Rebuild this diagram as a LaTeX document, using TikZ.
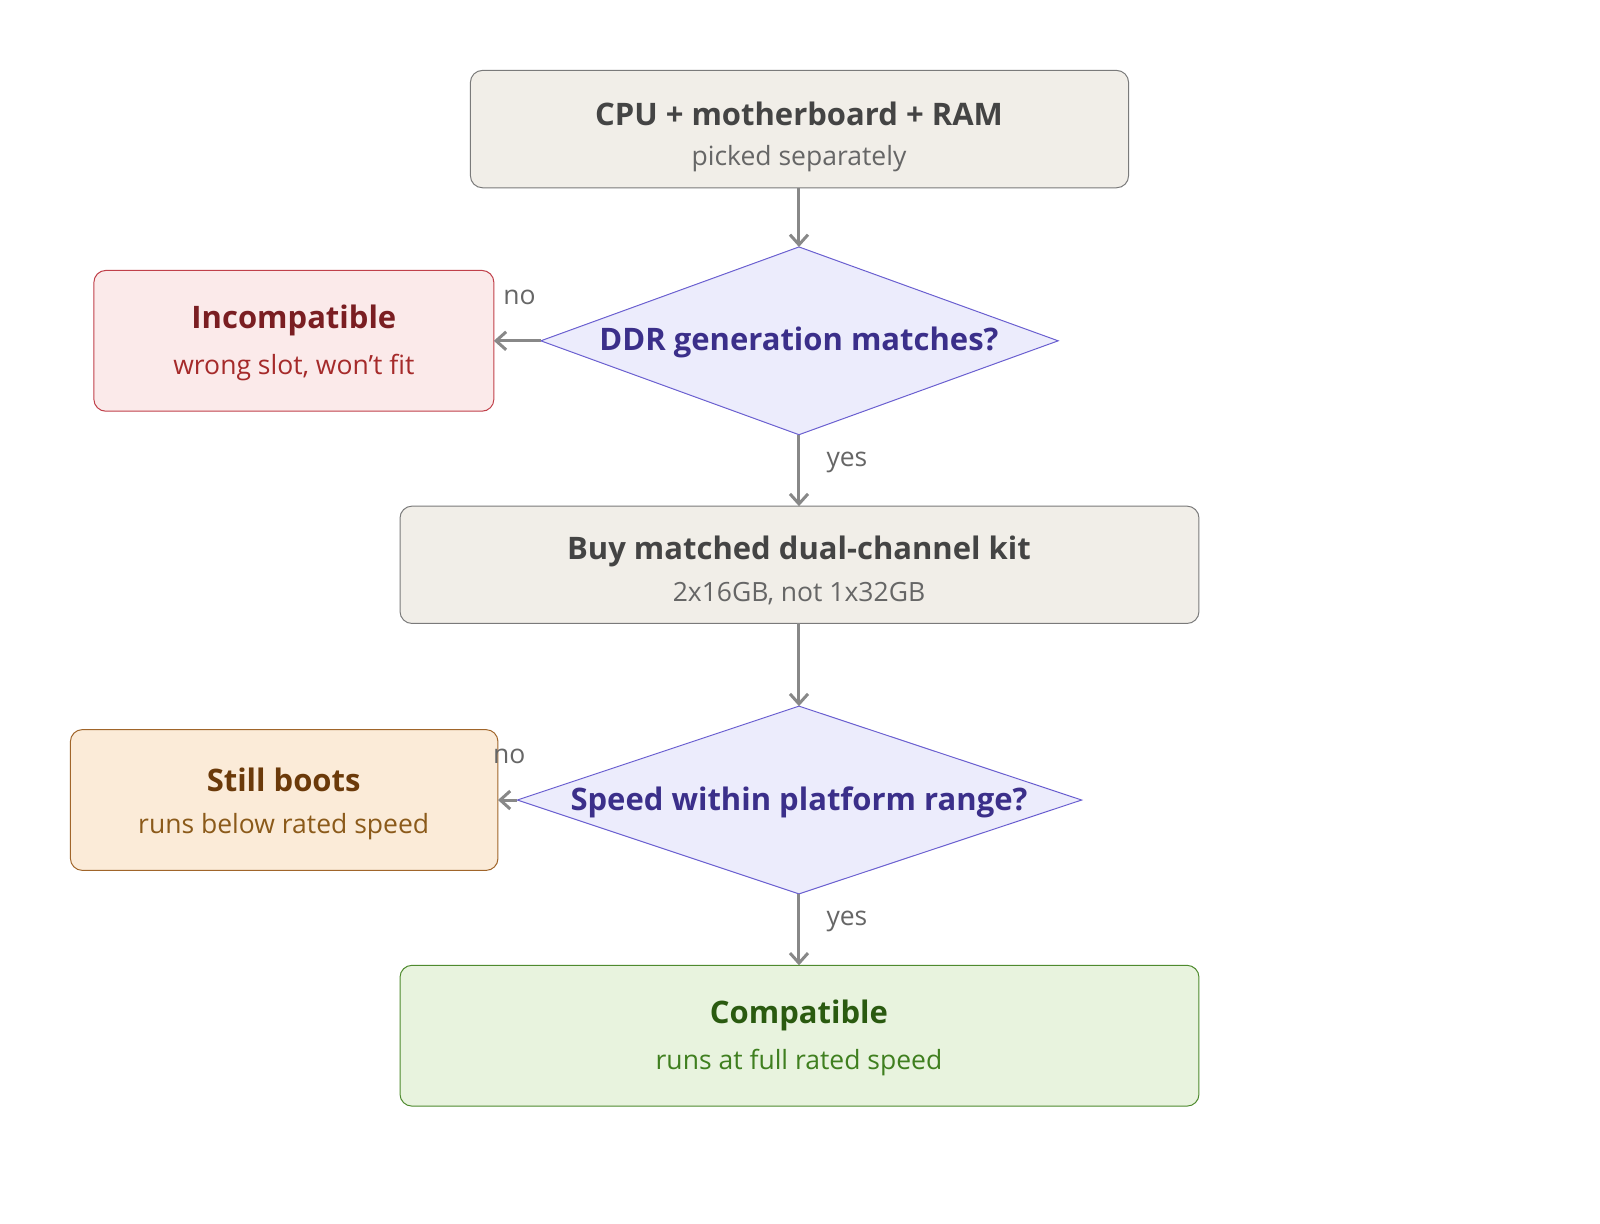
\documentclass[tikz,border=0pt]{standalone}
\usepackage{fontspec}
\setmainfont{Open Sans}
\usetikzlibrary{arrows.meta}
\definecolor{gfill}{HTML}{F1EEE8}\definecolor{gline}{HTML}{7A7A7A}\definecolor{gtext}{HTML}{444444}\definecolor{gsub}{HTML}{666666}
\definecolor{dfill}{HTML}{ECECFC}\definecolor{dline}{HTML}{6A5FD0}\definecolor{dtext}{HTML}{3B2F8A}
\definecolor{rfill}{HTML}{FBEAEA}\definecolor{rline}{HTML}{C0404A}\definecolor{rtext}{HTML}{7A1E22}\definecolor{rsub}{HTML}{A52A2A}
\definecolor{ofill}{HTML}{FBEBD8}\definecolor{oline}{HTML}{A0652A}\definecolor{otext}{HTML}{6B3A0A}\definecolor{osub}{HTML}{8B5A1A}
\definecolor{cfill}{HTML}{E8F3DE}\definecolor{cline}{HTML}{4E8A2E}\definecolor{ctext}{HTML}{2A5A10}\definecolor{csub}{HTML}{3F7F1F}
\definecolor{arr}{HTML}{888888}
\tikzset{
 box/.style={rounded corners=12pt,line width=1pt,inner sep=0pt},
 ttl/.style={font=\fontsize{31}{36}\selectfont\bfseries},
 sub/.style={font=\fontsize{26.5}{31}\selectfont},
 lbl/.style={font=\fontsize{26.5}{31}\selectfont,text=gsub},
 conn/.style={draw=arr,line width=3pt,-{Straight Barb[length=10pt,width=18pt,line width=3pt]}},
 dia/.style={fill=dfill,draw=dline,line width=1pt}
}
\begin{document}
\begin{tikzpicture}[x=1.0204pt,y=-1.0204pt]
\useasboundingbox (0,0) rectangle (1568,1199.5);
\draw[box,fill=gfill,draw=gline] (461,69) rectangle (1106,184);
\node[ttl,text=gtext] at (783,112) {CPU + motherboard + RAM};
\node[sub,text=gsub] at (783,155) {picked separately};
\coordinate (top) at (783,184);
\draw[dia] (783,242) -- (1037,334) -- (783,426) -- (530,334) -- cycle;
\node[ttl,text=dtext] at (783,336) {DDR generation matches?};
\coordinate (d1t) at (783,242);\coordinate (d1b) at (783,426);\coordinate (d1l) at (530,334);
\draw[box,fill=rfill,draw=rline] (92,265) rectangle (484,403);
\node[ttl,text=rtext] at (288,314) {Incompatible};
\node[sub,text=rsub] at (288,360) {wrong slot, won't fit};
\coordinate (inc) at (484,334);
\draw[box,fill=gfill,draw=gline] (392,496) rectangle (1175,611);
\node[ttl,text=gtext] at (783,540) {Buy matched dual-channel kit};
\node[sub,text=gsub] at (783,582) {2x16GB, not 1x32GB};
\coordinate (buyt) at (783,496);\coordinate (buyb) at (783,611);
\draw[dia] (783,692) -- (1060,784) -- (783,876) -- (507,784) -- cycle;
\node[ttl,text=dtext] at (783,786) {Speed within platform range?};
\coordinate (d2t) at (783,692);\coordinate (d2b) at (783,876);\coordinate (d2l) at (507,784);
\draw[box,fill=ofill,draw=oline] (69,715) rectangle (488,853);
\node[ttl,text=otext] at (278,764) {Still boots};
\node[sub,text=osub] at (278,810) {runs below rated speed};
\coordinate (still) at (488,784);
\draw[box,fill=cfill,draw=cline] (392,946) rectangle (1175,1084);
\node[ttl,text=ctext] at (783,995) {Compatible};
\node[sub,text=csub] at (783,1041) {runs at full rated speed};
\coordinate (comp) at (783,946);
\draw[conn] (top) -- (d1t);
\draw[conn] (d1l) -- (inc);
\draw[conn] (d1b) -- (buyt);
\draw[conn] (buyb) -- (d2t);
\draw[conn] (d2l) -- (still);
\draw[conn] (d2b) -- (comp);
\node[lbl] at (509,291) {no};
\node[lbl] at (830,453) {yes};
\node[lbl] at (499,741) {no};
\node[lbl] at (830,903) {yes};
\end{tikzpicture}
\end{document}
